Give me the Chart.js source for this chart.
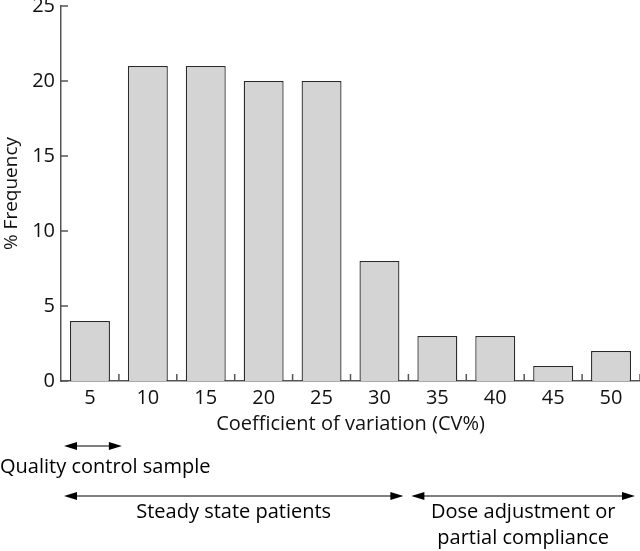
<!DOCTYPE html>
<html>
<head>
<meta charset="utf-8">
<script src="https://cdn.jsdelivr.net/npm/chart.js@4/dist/chart.umd.min.js"></script>
<style>
    body { margin: 0; background: #fff; }
    #wrap { width: 640px; height: 551px; position: relative; }
</style>
</head>
<body>
<div id="wrap"><canvas id="cvChart"></canvas></div>
<script>
const cvLabels = ["5", "10", "15", "20", "25", "30", "35", "40", "45", "50"];
const frequency = [4, 21, 21, 20, 20, 8, 3, 3, 1, 2];

// arrow ranges below the axis, as category indexes
const rangeNames = ["Quality control sample", "Steady state patients", "Dose adjustment or|partial compliance"];
const rangeFrom = [0, 0, 6];
const rangeTo = [0, 5, 9];

const FONT = "'Open Sans', sans-serif";
const AXIS = "#555";

function arrowHead(ctx, x, y, dir) {
    ctx.beginPath();
    ctx.moveTo(x, y);
    ctx.lineTo(x - dir * 13, y - 4);
    ctx.lineTo(x - dir * 13, y + 4);
    ctx.closePath();
    ctx.fill();
}

function drawArrow(ctx, x1, x2, y) {
    ctx.beginPath();
    ctx.moveTo(x1 + 4, y);
    ctx.lineTo(x2 - 4, y);
    ctx.stroke();
    arrowHead(ctx, x1, y, -1);
    arrowHead(ctx, x2, y, 1);
}

const extras = {
    id: "extras",
    afterDraw: function (chart) {
        const ctx = chart.ctx;
        const x = chart.scales.x;
        const y = chart.scales.y;
        const step = x.getPixelForValue(1) - x.getPixelForValue(0);
        ctx.save();

        // inward ticks on y axis
        ctx.strokeStyle = AXIS;
        ctx.lineWidth = 1.5;
        for (const t of y.ticks) {
            const py = y.getPixelForValue(t.value);
            ctx.beginPath();
            ctx.moveTo(x.left, py);
            ctx.lineTo(x.left + 7, py);
            ctx.stroke();
        }
        // upward ticks between categories
        for (let i = 0; i < cvLabels.length; i++) {
            const px = x.getPixelForValue(i) + step / 2;
            ctx.beginPath();
            ctx.moveTo(px, y.bottom);
            ctx.lineTo(px, y.bottom - 7);
            ctx.stroke();
        }

        // range arrows and captions
        ctx.strokeStyle = "#000";
        ctx.fillStyle = "#000";
        ctx.lineWidth = 1.2;
        ctx.font = "20px " + FONT;
        ctx.textBaseline = "alphabetic";
        const arrowY = [446, 496, 496];
        const textY = [473, 518, 518];
        const endPad = [3, -5, -5];
        for (let i = 0; i < rangeNames.length; i++) {
            const x1 = x.getPixelForValue(rangeFrom[i]) - step / 2 + 3;
            const x2 = x.getPixelForValue(rangeTo[i]) + step / 2 + endPad[i];
            drawArrow(ctx, x1, x2, arrowY[i]);
            const lines = rangeNames[i].split("|");
            if (i === 0) {
                ctx.textAlign = "left";
                ctx.fillText(lines[0], 0, textY[i]);
            } else {
                ctx.textAlign = "center";
                lines.forEach(function (l, k) {
                    ctx.fillText(l, (x1 + x2) / 2, textY[i] + k * 26);
                });
            }
        }
        ctx.restore();
    }
};

new Chart(document.getElementById("cvChart"), {
    type: "bar",
    data: {
        labels: cvLabels,
        datasets: [{
            data: frequency,
            backgroundColor: "#d4d4d4",
            borderColor: "#2a2a2a",
            borderWidth: 1.3,
            categoryPercentage: 1,
            barPercentage: 0.69
        }]
    },
    options: {
        responsive: true,
        maintainAspectRatio: false,
        animation: false,
        layout: { padding: { top: 6, left: 0, right: 0, bottom: 110 } },
        plugins: { legend: { display: false }, tooltip: { enabled: false } },
        scales: {
            x: {
                grid: { display: false, drawTicks: false },
                border: { display: true, color: AXIS, width: 1.5 },
                ticks: { color: "#111", padding: 5, font: { family: FONT, size: 20 } },
                title: {
                    display: true,
                    text: "Coefficient of variation (CV%)",
                    color: "#111",
                    font: { family: FONT, size: 20 },
                    padding: { top: 0, bottom: 5 }
                },
                afterFit: function (s) {
                    s.height = 60;
                    s.paddingLeft = 0;
                    s.paddingRight = 0;
                }
            },
            y: {
                min: 0,
                max: 25,
                ticks: { stepSize: 5, color: "#111", padding: 6, font: { family: FONT, size: 20 } },
                grid: { display: false, drawTicks: false },
                border: { display: true, color: AXIS, width: 1.5 },
                title: {
                    display: true,
                    text: "% Frequency",
                    color: "#111",
                    font: { family: FONT, size: 19 },
                    padding: { top: 0, bottom: 0 }
                },
                afterFit: function (s) {
                    s.width = 61;
                    s.paddingTop = 0;
                    s.paddingBottom = 0;
                }
            }
        }
    },
    plugins: [extras]
});
</script>
</body>
</html>
